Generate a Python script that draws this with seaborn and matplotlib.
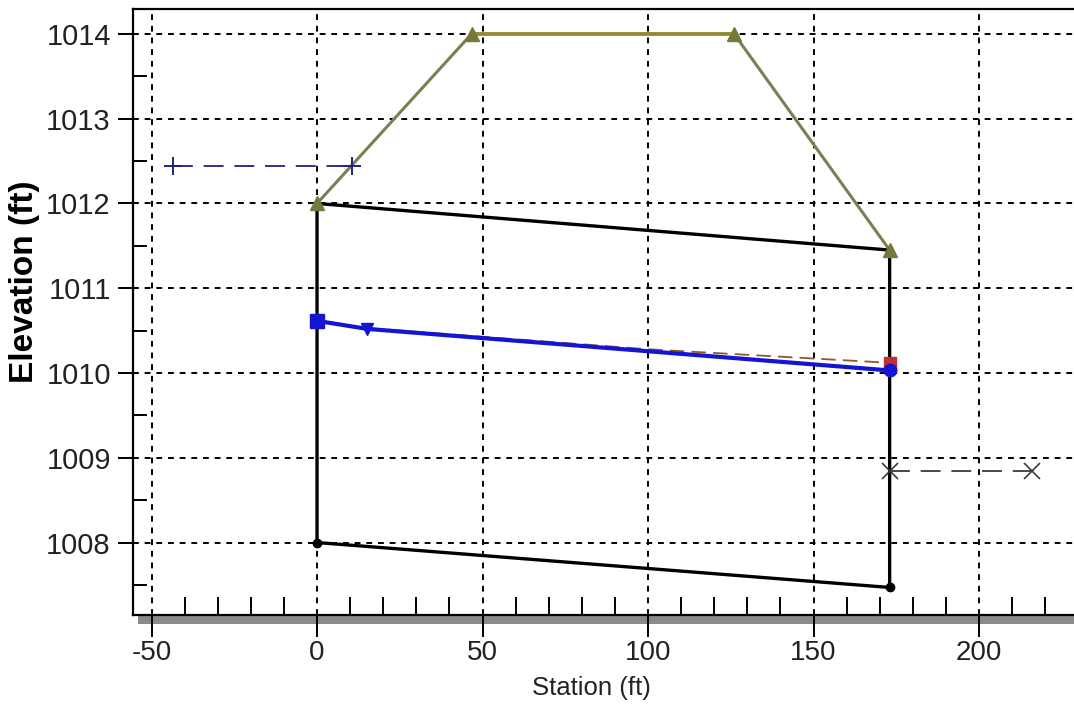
import matplotlib
matplotlib.use("Agg")
import matplotlib.pyplot as plt
from matplotlib.patches import Rectangle
from matplotlib.ticker import MultipleLocator
import seaborn as sns
import pandas as pd

# ---- data ----
culvert_x = [0, 173, 173, 0, 0]
culvert_y = [1012.0, 1011.45, 1007.47, 1008.0, 1012.0]

road_x = [0, 46.7, 126.0, 173]
road_y = [1012.0, 1014.0, 1014.0, 1011.45]

wse_x = [0, 15.2, 173]
wse_y = [1010.615, 1010.52, 1010.03]

egl_x = [15.2, 100, 173]
egl_y = [1010.53, 1010.28, 1010.12]

us_x = [-43.4, 10.7]
us_y = [1012.44, 1012.44]

ds_x = [173, 215.9]
ds_y = [1008.84, 1008.84]

x_major = [-50, 0, 50, 100, 150, 200]
x_labels = ['-50', '0', '50', '100', '150', '200']
y_major = [1008, 1009, 1010, 1011, 1012, 1013, 1014]

sns.set_style("white")
plt.rcParams['font.family'] = ['Liberation Sans', 'DejaVu Sans']

W, H = 1074, 707
fig = plt.figure(figsize=(W / 100, H / 100), dpi=100)
ax = fig.add_axes([133 / W, 92 / H, (W - 133) / W, (615 - 9) / H])

ax.set_xlim(-55.6, 228.7)
ax.set_ylim(1007.145, 1014.294)

# grid
ax.set_xticks(x_major)
ax.set_yticks(y_major)
ax.xaxis.set_minor_locator(MultipleLocator(10))
ax.yaxis.set_minor_locator(MultipleLocator(0.5))
ax.grid(True, which='major', color='black', linestyle=(0, (3, 3)), linewidth=1.4, zorder=1)

df_cul = pd.DataFrame({'x': culvert_x, 'y': culvert_y})
sns.lineplot(data=df_cul, x='x', y='y', sort=False, estimator=None, color='black',
             linewidth=2.4, ax=ax, zorder=3)
ax.plot([0, 173], [1008.0, 1007.47], linestyle='none', marker='o', color='black', markersize=6, zorder=4)

df_road = pd.DataFrame({'x': road_x, 'y': road_y})
sns.lineplot(data=df_road, x='x', y='y', sort=False, estimator=None, color='#7c7f50',
             linewidth=2.2, ax=ax, zorder=5)
ax.plot(road_x[1:3], road_y[1:3], color='#968a2c', linewidth=2.6, zorder=5)
ax.plot(road_x, road_y, linestyle='none', marker='^', color='#76783e', markersize=10, zorder=6)

df_egl = pd.DataFrame({'x': egl_x, 'y': egl_y})
sns.lineplot(data=df_egl, x='x', y='y', sort=False, estimator=None, color='#8a5a28',
             linewidth=1.3, linestyle=(0, (8, 4)), ax=ax, zorder=6)
ax.plot([egl_x[-1]], [egl_y[-1]], linestyle='none', marker='s', color='#c03030', markersize=9, zorder=7)

df_wse = pd.DataFrame({'x': wse_x, 'y': wse_y})
sns.lineplot(data=df_wse, x='x', y='y', sort=False, estimator=None, color='#1414d2',
             linewidth=3.0, ax=ax, zorder=7)
ax.plot([wse_x[0]], [wse_y[0]], linestyle='none', marker='s', color='#1414d2', markersize=10, zorder=8)
ax.plot([wse_x[1]], [wse_y[1]], linestyle='none', marker='v', color='#1414d2', markersize=9, zorder=8)
ax.plot([wse_x[2]], [wse_y[2]], linestyle='none', marker='o', color='#1414d2', markersize=9, zorder=8)

df_us = pd.DataFrame({'x': us_x, 'y': us_y})
sns.lineplot(data=df_us, x='x', y='y', sort=False, estimator=None, color='#202080',
             linewidth=1.3, linestyle=(0, (11, 6)), ax=ax, zorder=6)
ax.plot(us_x, us_y, linestyle='none', marker='+', markersize=13, color='#202080',
        markeredgecolor='#202080', markeredgewidth=1.4, zorder=7)

df_ds = pd.DataFrame({'x': ds_x, 'y': ds_y})
sns.lineplot(data=df_ds, x='x', y='y', sort=False, estimator=None, color='#3a3a3a',
             linewidth=1.3, linestyle=(0, (11, 6)), ax=ax, zorder=6)
ax.plot(ds_x, ds_y, linestyle='none', marker='x', markersize=11, color='#3a3a3a',
        markeredgecolor='#3a3a3a', markeredgewidth=1.2, zorder=7)

# spines
for s in ['left', 'top', 'bottom']:
    ax.spines[s].set_color('black')
    ax.spines[s].set_linewidth(1.6)
ax.spines['right'].set_visible(False)

# ground band under axis
ax.add_patch(Rectangle((5 / 941, -9 / 606), 1.0, 9 / 606, transform=ax.transAxes,
                       clip_on=False, color='#8a8a8a', zorder=0.5, linewidth=0))

ax.tick_params(axis='x', which='major', bottom=True, direction='out', length=16, width=1.4,
               color='black', labelsize=20, pad=2, labelcolor='#222222')
ax.tick_params(axis='x', which='minor', bottom=True, direction='in', length=13, width=1.4, color='black')
ax.tick_params(axis='y', which='major', left=True, direction='out', length=11, width=1.4,
               color='black', labelsize=21, pad=5, labelcolor='#222222')
ax.tick_params(axis='y', which='minor', left=True, direction='in', length=10, width=1.4, color='black')
ax.set_xticklabels(x_labels)

ax.set_xlabel('Station (ft)', fontsize=18.5, color='#222222')
ax.set_ylabel('Elevation (ft)', fontsize=24, fontweight='bold', color='black')
ax.xaxis.set_label_coords((591 - 133) / 941, -(676 - 615) / 606)
ax.yaxis.set_label_coords(-(133 - 40) / 941, (615 - 282) / 606)

fig.savefig('out.png', dpi=100)
